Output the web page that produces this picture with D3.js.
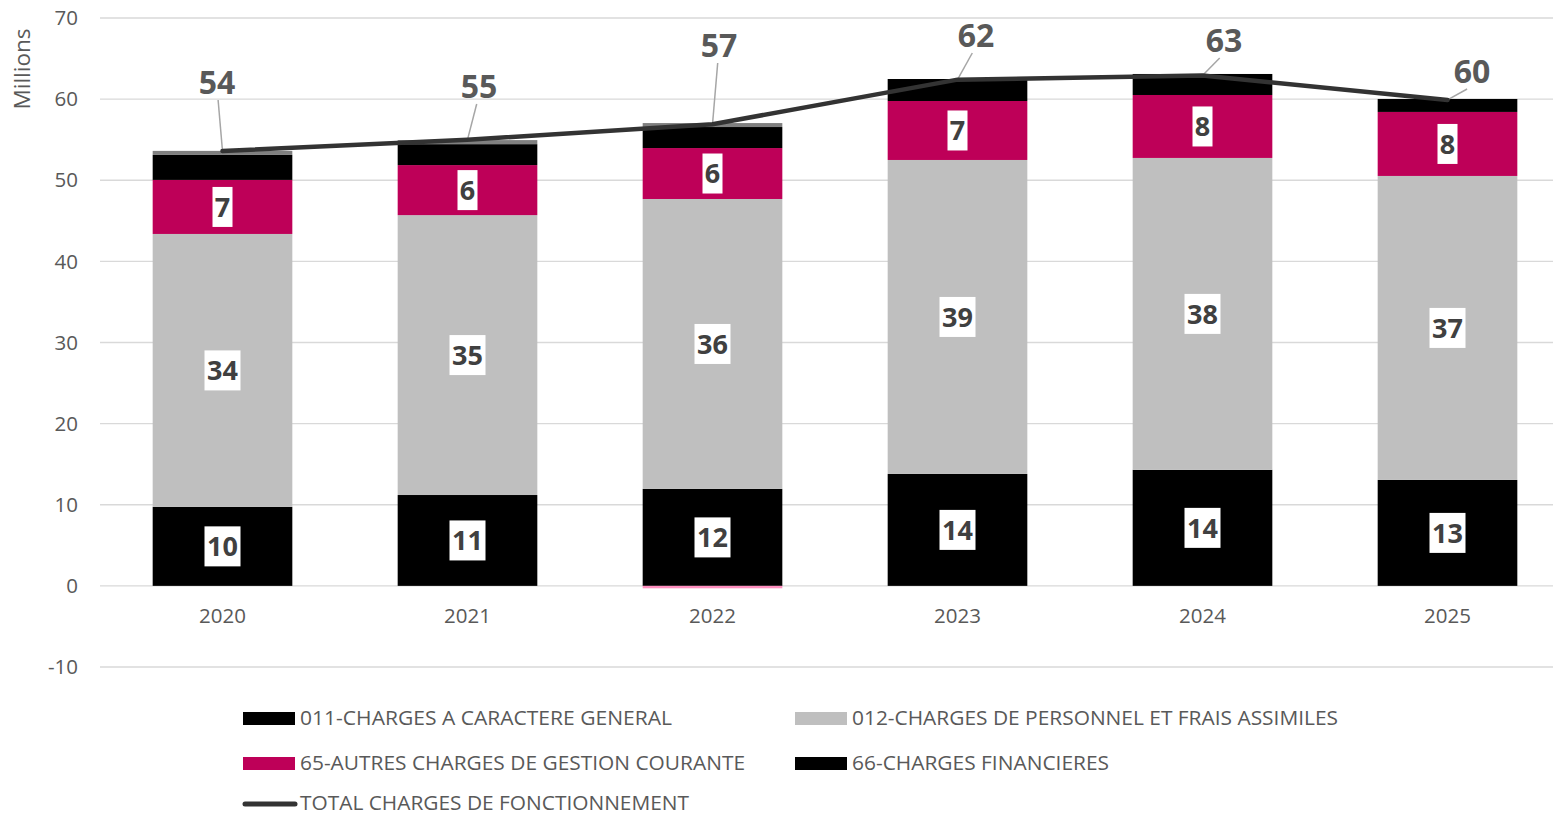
<!DOCTYPE html>
<html><head><meta charset="utf-8">
<script src="https://cdn.jsdelivr.net/npm/d3@7"></script>
<style>body{margin:0;background:#fff;}svg{display:block;font-family:"Open Sans",sans-serif;}</style>
</head><body>
<svg id="c" width="1553" height="816"></svg>
<script>
const years = ["2020","2021","2022","2023","2024","2025"];
const s011 = [9.74, 11.2, 11.95, 13.8, 14.3, 13.06];
const s012 = [33.64, 34.5, 35.74, 38.7, 38.45, 37.47];
const s65  = [6.66, 6.17, 6.28, 7.27, 7.76, 7.89];
const s66  = [3.08, 2.58, 2.59, 2.71, 2.59, 1.6];
const sOther = [0.5, 0.5, 0.49, 0, 0, 0];
const sNeg = [0, 0, -0.3, 0, 0, 0];
const total = [53.6, 55.0, 56.9, 62.4, 62.9, 59.9];
const yTicks = [-10,0,10,20,30,40,50,60,70];
const seriesNames = ["011-CHARGES A CARACTERE GENERAL","012-CHARGES DE PERSONNEL ET FRAIS ASSIMILES","65-AUTRES CHARGES DE GESTION COURANTE","66-CHARGES FINANCIERES"];
const totalName = "TOTAL CHARGES DE FONCTIONNEMENT";

const series = [
  {name:seriesNames[0], vals:s011, color:"#000000", label:true},
  {name:seriesNames[1], vals:s012, color:"#bfbfbf", label:true},
  {name:seriesNames[2], vals:s65, color:"#be0058", label:true},
  {name:seriesNames[3], vals:s66, color:"#000000", label:false},
  {name:"other", vals:sOther, color:"#808080", label:false}
];

const svg = d3.select("#c");
const x = d3.scaleBand().domain(years).range([100,1570]).paddingInner(0.43).paddingOuter(0.215);
const y = d3.scaleLinear().domain([-10,70]).range([667,18]);
const grey = "#595959";

svg.append("g").selectAll("line").data(yTicks).join("line")
  .attr("x1",100).attr("x2",1553).attr("y1",d=>y(d)).attr("y2",d=>y(d))
  .attr("stroke","#d9d9d9").attr("stroke-width",1.3);

svg.append("g").selectAll("text").data(yTicks).join("text")
  .attr("x",78).attr("y",d=>y(d)).attr("dy","0.35em").attr("text-anchor","end")
  .attr("fill",grey).attr("font-size",20.5).text(d=>d);

svg.append("text").attr("transform","translate(30,69) rotate(-90)")
  .attr("text-anchor","middle").attr("fill",grey).attr("font-size",22.5).text("Millions");

svg.append("g").selectAll("text").data(years).join("text")
  .attr("x",d=>x(d)+x.bandwidth()/2).attr("y",616).attr("dy","0.35em").attr("text-anchor","middle")
  .attr("fill",grey).attr("font-size",20.5).text(d=>d);

const bw = x.bandwidth();
const segs = [];
years.forEach((yr,i)=>{
  let base=0;
  series.forEach(s=>{
    const v=s.vals[i];
    segs.push({yr, y0:base, y1:base+v, color:s.color, label:s.label, v});
    base+=v;
  });
  if(sNeg[i]!==0) segs.push({yr,y0:sNeg[i],y1:0,color:"#ff8fbf",label:false,v:sNeg[i]});
});
svg.append("g").selectAll("rect").data(segs.filter(d=>d.v!==0)).join("rect")
  .attr("x",d=>x(d.yr)).attr("width",bw)
  .attr("y",d=>y(Math.max(d.y0,d.y1))).attr("height",d=>Math.abs(y(d.y0)-y(d.y1)))
  .attr("fill",d=>d.color);

const lab = svg.append("g");
segs.filter(d=>d.label).forEach(d=>{
  const cx = x(d.yr)+bw/2, cy = y((d.y0+d.y1)/2);
  const t = String(Math.round(d.v));
  const w = t.length*16+4;
  lab.append("rect").attr("x",cx-w/2).attr("y",cy-20).attr("width",w).attr("height",40).attr("fill","#fff");
  lab.append("text").attr("x",cx).attr("y",cy).attr("dy","0.36em").attr("text-anchor","middle")
    .attr("font-size",27).attr("font-weight","bold").attr("fill","#404040").text(t);
});

const line = d3.line().x((d,i)=>x(years[i])+bw/2).y(d=>y(d));
const totLabelPos = [[217,82],[479,86],[719,45],[976,35],[1224,40],[1472,71]];
totLabelPos.forEach((p,i)=>{
  const px = x(years[i])+bw/2, py = y(total[i]);
  if (py - (p[1]+20) > 8) {
    svg.append("line").attr("x1",px).attr("y1",py).attr("x2",px + (p[0]-px)*0.8).attr("y2",p[1]+18)
      .attr("stroke","#a6a6a6").attr("stroke-width",1.5);
  }
});
svg.append("path").datum(total).attr("d",line).attr("fill","none")
  .attr("stroke","#333333").attr("stroke-width",4.5).attr("stroke-linecap","round");
totLabelPos.forEach((p,i)=>{
  svg.append("text").attr("x",p[0]).attr("y",p[1]).attr("dy","0.36em").attr("text-anchor","middle")
    .attr("font-size",32).attr("font-weight","bold").attr("fill",grey).text(Math.round(total[i]));
});

const leg = svg.append("g");
const legItems = [
  {name:seriesNames[0], color:"#000000", x:243, y:718, w:372},
  {name:seriesNames[1], color:"#bfbfbf", x:795, y:718, w:486},
  {name:seriesNames[2], color:"#be0058", x:243, y:763, w:445},
  {name:seriesNames[3], color:"#000000", x:795, y:763, w:257}
];
legItems.forEach(d=>{
  leg.append("rect").attr("x",d.x).attr("y",d.y-6).attr("width",52).attr("height",13).attr("fill",d.color);
  leg.append("text").attr("x",d.x+57).attr("y",d.y).attr("dy","0.35em").attr("fill",grey).attr("font-size",20)
    .attr("textLength",d.w).attr("lengthAdjust","spacingAndGlyphs").text(d.name);
});
leg.append("line").attr("x1",245).attr("x2",295).attr("y1",804).attr("y2",804)
  .attr("stroke","#333333").attr("stroke-width",5).attr("stroke-linecap","round");
leg.append("text").attr("x",300).attr("y",803).attr("dy","0.35em").attr("fill",grey).attr("font-size",20)
  .attr("textLength",389).attr("lengthAdjust","spacingAndGlyphs").text(totalName);
</script>
</body></html>
